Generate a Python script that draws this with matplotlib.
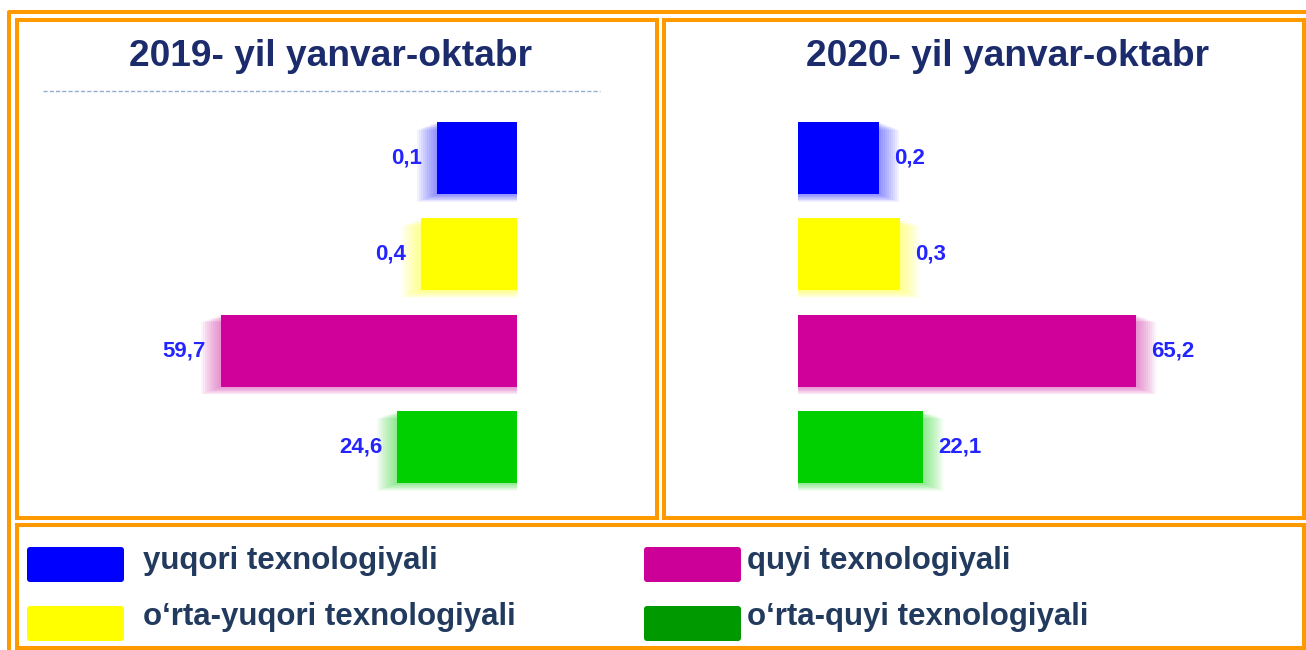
import numpy as np
import matplotlib
matplotlib.use("Agg")
import matplotlib.pyplot as plt
from matplotlib.patches import Rectangle, FancyBboxPatch

plt.rcParams['font.family'] = ['Liberation Sans', 'DejaVu Sans']

# data
categories = ["yuqori texnologiyali", "o\u2018rta-yuqori texnologiyali",
              "quyi texnologiyali", "o\u2018rta-quyi texnologiyali"]
labels_2019 = ["0,1", "0,4", "59,7", "24,6"]
labels_2020 = ["0,2", "0,3", "65,2", "22,1"]
# the bars in the picture are not drawn to scale, these are their drawn lengths
bar_len_2019 = [80, 96, 296, 120]
bar_len_2020 = [81, 102, 338, 125]
bar_colors = ["#0000ff", "#ffff00", "#d0009b", "#00d000"]
legend_colors = ["#0000ff", "#ffff00", "#cc0099", "#009900"]

W, H = 1306, 650
ORANGE = "#ff9900"
fig = plt.figure(figsize=(W / 100, H / 100), dpi=100)
fig.patch.set_facecolor("white")

# background axes in pixel coords for frames, titles and legend
bg = fig.add_axes([0, 0, 1, 1])
bg.set_xlim(0, W)
bg.set_ylim(H, 0)
bg.axis("off")

lw = 2.9
bg.plot([9, 9, W + 5], [H + 5, 12, 12], color=ORANGE, lw=lw, solid_capstyle="butt")
for (x0, y0, x1, y1) in [(17, 20, 657, 518), (664, 20, 1304, 518), (17, 525, 1304, 648)]:
    bg.add_patch(Rectangle((x0, y0), x1 - x0, y1 - y0, fill=False,
                           edgecolor=ORANGE, lw=lw))

title_color = "#1b2b6c"
bg.text(331, 56, "2019- yil yanvar-oktabr", ha="center", va="center",
        fontsize=26.7, fontweight="bold", color=title_color)
bg.text(1008, 56, "2020- yil yanvar-oktabr", ha="center", va="center",
        fontsize=26.7, fontweight="bold", color=title_color)
bg.plot([43, 600], [91, 91], color="#93aed0", lw=1, dashes=(3, 1.5))

# legend
leg_text = "#223a5d"
sw_x = [27, 27, 644, 644]
sw_y = [547, 606, 547, 606]
txt_x = [143, 143, 747, 747]
txt_y = [561, 617, 561, 617]
for i in range(len(categories)):
    bg.add_patch(FancyBboxPatch((sw_x[i] + 3, sw_y[i] + 3), 91, 29,
                                boxstyle="round,pad=3", facecolor=legend_colors[i],
                                edgecolor="none"))
    bg.text(txt_x[i], txt_y[i], categories[i], ha="left", va="center",
            fontsize=22.5, fontweight="bold", color=leg_text)


def draw_bars(ax, lengths, labels, side):
    y = np.arange(len(lengths))
    lengths = np.array(lengths)
    # soft glow behind the bars
    for k in range(1, 11):
        ax.barh(y + 0.008 * k, lengths + 2 * k, height=0.75, color=bar_colors,
                alpha=0.05, edgecolor="none", zorder=1)
    ax.barh(y, lengths, height=0.75, color=bar_colors, edgecolor="none", zorder=2)
    for yi, L, lab in zip(y, lengths, labels):
        ax.text(L + 15, yi, lab, ha="right" if side == "left" else "left",
                va="center", fontsize=16, fontweight="bold", color="#2424ff", zorder=3)
    ax.set_xlim(0, 400)
    if side == "left":
        ax.invert_xaxis()
    ax.set_ylim(3.5, -0.5)
    ax.axis("off")


ax1 = fig.add_axes([117 / W, 1 - 495 / H, 400 / W, 385 / H])
draw_bars(ax1, bar_len_2019, labels_2019, "left")
ax2 = fig.add_axes([798 / W, 1 - 495 / H, 400 / W, 385 / H])
draw_bars(ax2, bar_len_2020, labels_2020, "right")

fig.savefig("out.png", dpi=100, facecolor="white")
